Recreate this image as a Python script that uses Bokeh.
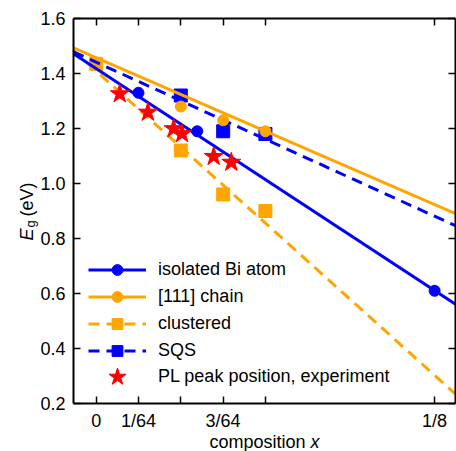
import numpy as np
from bokeh.plotting import figure
from bokeh.models import (Range1d, FixedTicker, LinearAxis, Label, Legend,
                          LegendItem, PrintfTickFormatter)
from bokeh.embed import file_html
from bokeh.resources import INLINE

# ---- data ----
iso_x = [0.0156, 0.0373, 0.125]
iso_y = [1.33, 1.19, 0.61]
chain_x = [0.03125, 0.0469, 0.0625]
chain_y = [1.28, 1.23, 1.19]
clus_x = [0.0, 0.03125, 0.0469, 0.0625]
clus_y = [1.435, 1.12, 0.96, 0.90]
sqs_x = [0.03125, 0.0469, 0.0625]
sqs_y = [1.32, 1.19, 1.18]
pl_x = [0.0087, 0.0191, 0.0286, 0.0317, 0.0434, 0.0499]
pl_y = [1.326, 1.259, 1.199, 1.181, 1.098, 1.077]

# linear fits (intercept, slope)
iso_fit = (1.418, -6.46)
chain_fit = (1.457, -4.27)
clus_fit = (1.409, -8.85)
sqs_fit = (1.441, -4.48)

x_ticks = [0.0, 1/64, 2/64, 3/64, 4/64, 1/8]
x_tick_labels = ["0", "1/64", "", "3/64", "", "1/8"]
y_ticks = [0.2, 0.4, 0.6, 0.8, 1.0, 1.2, 1.4, 1.6]

# axis limits of the plotting box
x_lo, x_hi = -0.00839, 0.13272
y_lo, y_hi = 0.2, 1.6

# page layout (pixels): box edges inside a 456 x 451 canvas
W, H = 456, 451
BOX_L, BOX_R, BOX_T, BOX_B = 73, 455, 18, 403

BLUE = "#0000ff"
ORANGE = "#ffa500"
RED = "#ff0000"
FONT = "Liberation Sans"

sx = (x_hi - x_lo) / (BOX_R - BOX_L)
sy = (y_hi - y_lo) / (BOX_B - BOX_T)
xr = Range1d(x_lo - BOX_L * sx, x_hi + (W - BOX_R) * sx)
yr = Range1d(y_lo - (H - BOX_B) * sy, y_hi + BOX_T * sy)

p = figure(frame_width=W, frame_height=H, x_range=xr, y_range=yr,
           output_backend="svg", toolbar_location=None,
           x_axis_location=None, y_axis_location=None,
           min_border=0)
p.grid.visible = False
p.outline_line_color = None
p.background_fill_color = "white"
p.border_fill_color = "white"


def make_axis(ticks, loc, bounds, show_labels):
    ax = LinearAxis(fixed_location=loc, bounds=bounds)
    ax.ticker = FixedTicker(ticks=ticks)
    ax.major_tick_in = 7
    ax.major_tick_out = 0
    ax.minor_tick_line_color = None
    ax.axis_line_width = 2
    ax.axis_line_color = "black"
    ax.major_tick_line_width = 1.5
    ax.major_tick_line_color = "black"
    ax.major_label_text_font = FONT
    ax.major_label_text_font_size = "18px"
    ax.major_label_text_color = "black"
    if not show_labels:
        ax.major_label_overrides = {t: "" for t in ticks}
        ax.major_label_standoff = 0
    return ax


xa = make_axis(x_ticks, y_lo, (x_lo, x_hi), True)
xa.major_label_overrides = {t: l for t, l in zip(x_ticks, x_tick_labels)}
xa.major_label_standoff = 7
p.add_layout(xa, "below")

ya = make_axis(y_ticks, x_lo, (y_lo, y_hi), True)
ya.formatter = PrintfTickFormatter(format="%.1f")
ya.major_label_standoff = 8
p.add_layout(ya, "left")

top = make_axis(x_ticks, y_hi, (x_lo, x_hi), False)
p.add_layout(top, "above")
right = make_axis(y_ticks, x_hi, (y_lo, y_hi), False)
p.add_layout(right, "right")

xs = np.array([x_lo, x_hi])

# markers under the lines
r_clus_s = p.scatter(clus_x, clus_y, marker="square", size=13, color=ORANGE)
r_sqs_s = p.scatter(sqs_x, sqs_y, marker="square", size=13, color=BLUE)

r_clus_l = p.line(xs, clus_fit[0] + clus_fit[1] * xs, line_color=ORANGE,
                  line_width=3, line_dash="11 7")
r_sqs_l = p.line(xs, sqs_fit[0] + sqs_fit[1] * xs, line_color=BLUE,
                 line_width=3, line_dash="11 7")
r_iso_l = p.line(xs, iso_fit[0] + iso_fit[1] * xs, line_color=BLUE, line_width=3)
r_chain_l = p.line(xs, chain_fit[0] + chain_fit[1] * xs, line_color=ORANGE,
                   line_width=3)

r_iso_s = p.scatter(iso_x, iso_y, marker="circle", size=11, color=BLUE)
r_chain_s = p.scatter(chain_x, chain_y, marker="circle", size=11, color=ORANGE)
r_pl = p.scatter(pl_x, pl_y, marker="star", size=20, color=RED)


def style_legend(lg, gh):
    lg.border_line_color = None
    lg.background_fill_alpha = 0
    lg.padding = 0
    lg.margin = 0
    lg.spacing = 0
    lg.glyph_width = 58
    lg.glyph_height = gh
    lg.label_height = gh
    lg.label_standoff = 12
    lg.label_text_font = FONT
    lg.label_text_font_size = "18px"
    lg.label_text_color = "black"
    lg.label_text_baseline = "middle"


legend = Legend(items=[
    LegendItem(label="isolated Bi atom", renderers=[r_iso_l, r_iso_s]),
    LegendItem(label="[111] chain", renderers=[r_chain_l, r_chain_s]),
    LegendItem(label="clustered", renderers=[r_clus_l, r_clus_s]),
    LegendItem(label="SQS", renderers=[r_sqs_l, r_sqs_s]),
], location=(88, H - 364))
style_legend(legend, 27)
p.add_layout(legend, "center")

legend2 = Legend(items=[
    LegendItem(label="PL peak position, experiment", renderers=[r_pl]),
], location=(88, H - 399))
style_legend(legend2, 45)
p.add_layout(legend2, "center")

# axis titles as text annotations (for italic / subscript parts)
lab_kw = dict(x_units="screen", y_units="screen", text_font=FONT,
              text_color="black", text_baseline="alphabetic", text_align="left")
p.add_layout(Label(x=26, y=H - 240, text="E", angle=np.pi / 2,
                   text_font_size="18px", text_font_style="italic", **lab_kw))
p.add_layout(Label(x=30, y=H - 227, text="g", angle=np.pi / 2,
                   text_font_size="13px", **lab_kw))
p.add_layout(Label(x=26, y=H - 216, text="(eV)", angle=np.pi / 2,
                   text_font_size="18px", **lab_kw))
p.add_layout(Label(x=209, y=H - 441, text="composition", text_font_size="18px",
                   **lab_kw))
p.add_layout(Label(x=310, y=H - 441, text="x", text_font_size="18px",
                   text_font_style="italic", **lab_kw))

open("out.html", "w").write(file_html(p, INLINE))
